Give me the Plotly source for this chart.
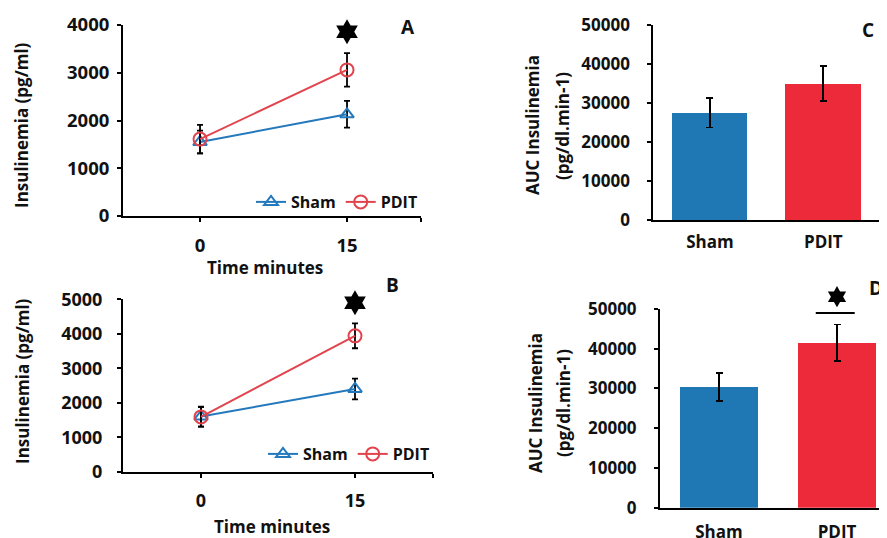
import plotly.graph_objects as go

# ---------------- data ----------------
time_min = [0, 15]
time_ticks = ["0", "15"]

a_sham = [1550, 2130]
a_sham_err = [240, 280]
a_pdit = [1610, 3060]
a_pdit_err = [300, 350]
a_star = [3860]

b_sham = [1600, 2400]
b_sham_err = [290, 300]
b_pdit = [1590, 3940]
b_pdit_err = [280, 360]
b_star = [4900]

groups = ["Sham", "PDIT"]
c_auc = [27500, 35000]
c_err = [3800, 4500]
d_auc = [30400, 41500]
d_err = [3500, 4600]
d_star = [53100]
d_sig_line = 49000

# ---------------- style ----------------
W, H = 887, 538
OFF = 8  # page body margin in the viewer
FONT = "Open Sans"
BLUE_L = "#2479bd"
RED_L = "#e2444d"
BLUE_B = "#1f78b4"
RED_B = "#ec2a3a"
TXT = "#111111"


def px(x):
    return min(1.0, max(0.0, (x - OFF) / W))


def py(y):
    return min(1.0, max(0.0, 1 - (y - OFF) / H))


fig = go.Figure()

# ---------------- panel A ----------------
fig.add_trace(go.Scatter(
    x=time_min, y=a_sham, name="Sham", mode="lines+markers",
    line=dict(color=BLUE_L, width=2),
    marker=dict(symbol="triangle-up-open", size=12, color=BLUE_L, line=dict(width=2)),
    error_y=dict(type="data", array=a_sham_err, color="black", thickness=1.8, width=3),
    xaxis="x", yaxis="y", legend="legend"))
fig.add_trace(go.Scatter(
    x=time_min, y=a_pdit, name="PDIT", mode="lines+markers",
    line=dict(color=RED_L, width=2),
    marker=dict(symbol="circle-open", size=13, color=RED_L, line=dict(width=2)),
    error_y=dict(type="data", array=a_pdit_err, color="black", thickness=1.8, width=3),
    xaxis="x", yaxis="y", legend="legend"))
fig.add_trace(go.Scatter(
    x=[time_min[1]], y=a_star, mode="markers", showlegend=False,
    marker=dict(symbol="hexagram", size=19, color="black"),
    xaxis="x", yaxis="y", cliponaxis=False))

# ---------------- panel B ----------------
fig.add_trace(go.Scatter(
    x=time_min, y=b_sham, name="Sham", mode="lines+markers",
    line=dict(color=BLUE_L, width=2),
    marker=dict(symbol="triangle-up-open", size=12, color=BLUE_L, line=dict(width=2)),
    error_y=dict(type="data", array=b_sham_err, color="black", thickness=1.8, width=3),
    xaxis="x2", yaxis="y2", legend="legend2"))
fig.add_trace(go.Scatter(
    x=time_min, y=b_pdit, name="PDIT", mode="lines+markers",
    line=dict(color=RED_L, width=2),
    marker=dict(symbol="circle-open", size=13, color=RED_L, line=dict(width=2)),
    error_y=dict(type="data", array=b_pdit_err, color="black", thickness=1.8, width=3),
    xaxis="x2", yaxis="y2", legend="legend2"))
fig.add_trace(go.Scatter(
    x=[time_min[1]], y=b_star, mode="markers", showlegend=False,
    marker=dict(symbol="hexagram", size=19, color="black"),
    xaxis="x2", yaxis="y2", cliponaxis=False))

# ---------------- panel C ----------------
fig.add_trace(go.Bar(
    x=groups, y=c_auc, width=0.667, marker=dict(color=[BLUE_B, RED_B], line=dict(width=0)),
    error_y=dict(type="data", array=c_err, color="black", thickness=1.8, width=3.5),
    showlegend=False, xaxis="x3", yaxis="y3"))

# ---------------- panel D ----------------
fig.add_trace(go.Bar(
    x=groups, y=d_auc, width=0.66, marker=dict(color=[BLUE_B, RED_B], line=dict(width=0)),
    error_y=dict(type="data", array=d_err, color="black", thickness=1.8, width=3.5),
    showlegend=False, xaxis="x4", yaxis="y4"))
# significance star: drawn on an invisible companion axis pair with the same scale
fig.add_trace(go.Scatter(
    x=[groups[1]], y=d_star, mode="markers", showlegend=False,
    marker=dict(symbol="hexagram", size=16, color="black"),
    xaxis="x5", yaxis="y5", cliponaxis=False))
fig.add_shape(type="line", xref="x4", yref="y4", x0=0.82, x1=1.15,
              y0=d_sig_line, y1=d_sig_line, line=dict(color="black", width=2))

# ---------------- axes ----------------
def tf(size):
    return dict(family=FONT, size=size, color=TXT, weight="bold")


common = dict(showline=True, linecolor="black", linewidth=2, ticks="outside",
              ticklen=4, tickwidth=1.5, tickcolor="black", showgrid=False,
              zeroline=False, fixedrange=True, automargin=False)
nobarticks = {**common, "ticks": ""}

xa_end = 22.55
xb_end = 22.6
d_xrange = [-0.5, -0.5 + (W + OFF - 660) / 118.0]
d_top_px = 280.0
d_top_val = (507.7 - d_top_px) / (507.7 - 309) * 50000

fig.update_layout(
    xaxis=dict(domain=[px(123), px(421)], range=[-7.86, xa_end], anchor="y",
               tickvals=time_min + [xa_end], ticktext=time_ticks + [""],
               ticklabelstandoff=8, tickfont=tf(18.5), **common),
    yaxis=dict(domain=[py(216), py(25)], range=[0, 4000], anchor="x",
               tickvals=[0, 1000, 2000, 3000, 4000], tickformat="d",
               ticklabelstandoff=4, tickfont=tf(18.5), **common),
    xaxis2=dict(domain=[px(123), px(433)], range=[-7.6, xb_end], anchor="y2",
                tickvals=time_min + [xb_end], ticktext=time_ticks + [""],
                ticklabelstandoff=8, tickfont=tf(18), **common),
    yaxis2=dict(domain=[py(471.7), py(299.3)], range=[0, 5000], anchor="x2",
                tickvals=[0, 1000, 2000, 3000, 4000, 5000], tickformat="d",
                ticklabelstandoff=11, tickfont=tf(18), **common),
    xaxis3=dict(domain=[px(653.3), px(880)], range=[-0.5, 1.5], anchor="y3",
                ticklabelstandoff=6, tickfont=tf(17), **nobarticks),
    yaxis3=dict(domain=[py(220), py(25)], range=[0, 50000], anchor="x3",
                tickvals=[0, 10000, 20000, 30000, 40000, 50000], tickformat="d",
                ticklabelstandoff=14, tickfont=tf(17), **common),
    xaxis4=dict(domain=[px(660), 1.0], range=d_xrange,
                anchor="y4", ticklabelstandoff=8, tickfont=tf(17), **nobarticks),
    yaxis4=dict(domain=[py(507.7), py(309)], range=[0, 50000], anchor="x4",
                tickvals=[0, 10000, 20000, 30000, 40000, 50000], tickformat="d",
                ticklabelstandoff=14, tickfont=tf(17), **common),
    xaxis5=dict(domain=[px(660), 1.0], range=d_xrange, anchor="y5", type="category",
                categoryorder="array", categoryarray=groups, visible=False,
                fixedrange=True, automargin=False),
    yaxis5=dict(domain=[py(507.7), py(d_top_px)], range=[0, d_top_val], anchor="x5",
                visible=False, fixedrange=True, automargin=False),
)

# ---------------- legends ----------------
legfont = dict(family=FONT, size=16, color=TXT, weight="bold")
fig.update_layout(
    legend=dict(orientation="h", x=px(251), y=py(202), xanchor="left", yanchor="middle",
                font=legfont, bgcolor="rgba(0,0,0,0)", itemwidth=30, tracegroupgap=0),
    legend2=dict(orientation="h", x=px(263), y=py(454), xanchor="left", yanchor="middle",
                 font=legfont, bgcolor="rgba(0,0,0,0)", itemwidth=30, tracegroupgap=0),
)

# ---------------- annotations (titles / panel letters) ----------------
titlefont = dict(family=FONT, size=17, color=TXT, weight="bold")
letterfont = dict(family=FONT, size=19, color=TXT, weight="bold")
ann = []


def add_text(text, x, y, font, angle=0):
    ann.append(dict(text=text, x=(x - OFF) / W, y=1 - (y - OFF) / H,
                    xref="paper", yref="paper",
                    showarrow=False, xanchor="center", yanchor="middle",
                    textangle=angle, font=font))


add_text("Insulinemia (pg/ml)", 22, 125, titlefont, -90)
add_text("Time minutes", 265, 267, titlefont)
add_text("Insulinemia (pg/ml)", 22, 381, titlefont, -90)
add_text("Time minutes", 272, 526, titlefont)
add_text("AUC Insulinemia", 533, 125, titlefont, -90)
add_text("(pg/dl.min-1)", 562, 126, titlefont, -90)
add_text("AUC Insulinemia", 535, 403, titlefont, -90)
add_text("(pg/dl.min-1)", 563, 403, titlefont, -90)
add_text("A", 408, 27, letterfont)
add_text("B", 392, 285, letterfont)
add_text("C", 868, 30, letterfont)
add_text("D", 876, 288, letterfont)

fig.update_layout(
    template="none",
    annotations=ann,
    width=W, height=H,
    margin=dict(l=0, r=0, t=0, b=0, autoexpand=False),
    paper_bgcolor="white", plot_bgcolor="rgba(0,0,0,0)",
    font=dict(family=FONT, color=TXT),
    bargap=0,
)

fig.write_html("out.html")
